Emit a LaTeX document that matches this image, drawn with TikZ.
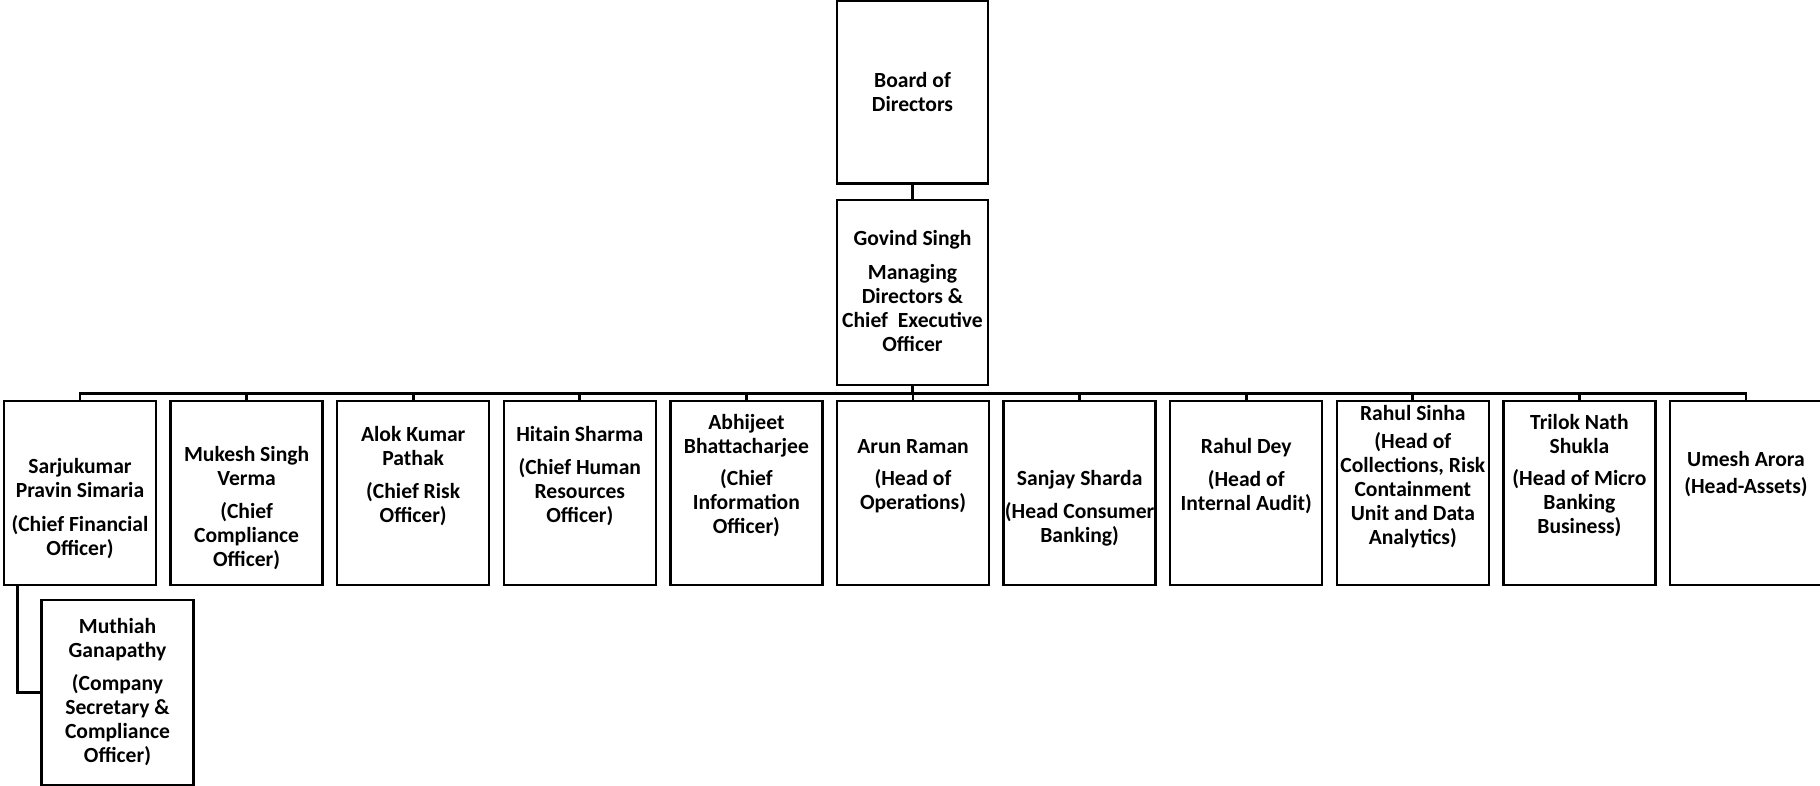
\documentclass[tikz,border=0pt]{standalone}
\usepackage{fontspec}
\setmainfont{Carlito}
\tikzset{
  every picture/.style={x=1pt,y=-1pt},
  box/.style={draw=black,line width=2.5pt,rectangle,inner sep=0pt,minimum width=152pt,minimum height=184pt},
  txt/.style={align=center,inner sep=0pt,font=\fontsize{21.6}{24}\selectfont\bfseries},
  conn/.style={draw=black,line width=2.8pt}
}
\begin{document}
\begin{tikzpicture}
\useasboundingbox (0,0) rectangle (1820,786);
\clip (0,0) rectangle (1820,786);
% top boxes
\node[box,minimum width=151pt,minimum height=183pt] (board) at (912.5,92) {};
\node[txt] (tboard) at (912.5,92) {Board of\\Directors};
\node[box,minimum width=151pt,minimum height=185pt] (ceo) at (912.5,292.5) {};
\node[txt] (tceo) at (912.5,291) {Govind Singh\\[10pt]Managing\\Directors \&\\Chief~ Executive\\Officer};
% row boxes
\foreach \i in {0,...,10} {
  \node[box] (b\i) at ({80+166.6*\i},493) {};
}
\node[txt] (t0) at (80,509) {Sarjukumar\\Pravin Simaria\\[10pt](Chief Financial\\Officer)};
\node[txt] (t1) at (246.6,508) {Mukesh Singh\\Verma\\[9pt](Chief\\Compliance\\Officer)};
\node[txt] (t2) at (413.2,476) {Alok Kumar\\Pathak\\[9pt](Chief Risk\\Officer)};
\node[txt] (t3) at (579.8,476) {Hitain Sharma\\[9pt](Chief Human\\Resources\\Officer)};
\node[txt] (t4) at (746.4,476) {Abhijeet\\Bhattacharjee\\[8pt](Chief\\Information\\Officer)};
\node[txt] (t5) at (913,476) {Arun Raman\\[8pt](Head of\\Operations)};
\node[txt] (t6) at (1079.6,508) {Sanjay Sharda\\[9pt](Head Consumer\\Banking)};
\node[txt] (t7) at (1246.2,476) {Rahul Dey\\[9pt](Head of\\Internal Audit)};
\node[txt] (t8) at (1412.8,477) {Rahul Sinha\\[4pt](Head of\\Collections, Risk\\Containment\\Unit and Data\\Analytics)};
\node[txt] (t9) at (1579.4,476) {Trilok Nath\\Shukla\\[8pt](Head of Micro\\Banking\\Business)};
\node[txt] (t10) at (1746,474) {Umesh Arora\\[3pt](Head-Assets)};
% secretary
\node[box,minimum width=151.6pt,minimum height=185pt] (sec) at (117.5,692.5) {};
\node[txt] (tsec) at (117.5,692) {Muthiah\\Ganapathy\\[9pt](Company\\Secretary \&\\Compliance\\Officer)};
% connectors
\draw[conn] (board.south) -- (ceo.north);
\foreach \i in {0,...,10} {
  \draw[conn] (ceo.south) -- ++(0,7.5) -| (b\i.north);
}
\draw[conn] ([xshift=15pt]b0.south west) |- (sec.west);
\end{tikzpicture}
\end{document}
